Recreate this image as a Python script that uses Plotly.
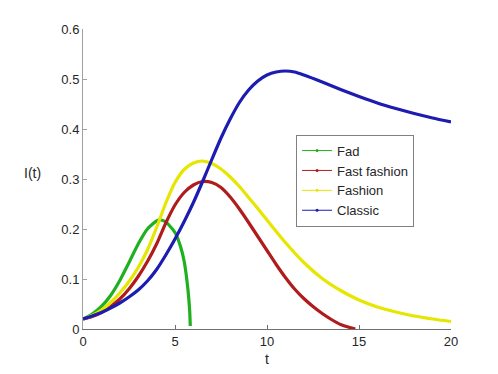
import plotly.graph_objects as go

# values
fad_t = [0, 0.5, 1, 1.5, 2, 2.5, 3, 3.5, 4, 4.25, 4.5, 5, 5.3, 5.5, 5.7, 5.8, 5.83]
fad_i = [0.020, 0.030, 0.045, 0.067, 0.097, 0.133, 0.170, 0.200, 0.216, 0.218, 0.214,
         0.193, 0.165, 0.135, 0.080, 0.035, 0.006]

fast_t = [0, 0.5, 1, 1.5, 2, 2.5, 3, 3.5, 4, 4.5, 5, 5.5, 6, 6.5, 7, 7.5, 8, 8.5, 9, 9.5,
          10, 10.5, 11, 11.5, 12, 12.5, 13, 13.5, 14, 14.5, 14.8]
fast_i = [0.020, 0.025, 0.033, 0.045, 0.060, 0.080, 0.105, 0.135, 0.170, 0.212, 0.248,
          0.273, 0.288, 0.295, 0.293, 0.283, 0.264, 0.240, 0.213, 0.185, 0.157, 0.129,
          0.103, 0.080, 0.061, 0.045, 0.031, 0.019, 0.009, 0.003, 0.0]

fashion_t = [0, 0.5, 1, 1.5, 2, 2.5, 3, 3.5, 4, 4.5, 5, 5.5, 6, 6.5, 7, 7.5, 8, 8.5, 9,
             9.5, 10, 11, 12, 13, 14, 15, 16, 17, 18, 19, 20]
fashion_i = [0.020, 0.027, 0.038, 0.053, 0.072, 0.095, 0.123, 0.158, 0.203, 0.252, 0.293,
             0.319, 0.332, 0.336, 0.331, 0.320, 0.304, 0.285, 0.263, 0.241, 0.218, 0.173,
             0.133, 0.101, 0.077, 0.058, 0.044, 0.034, 0.026, 0.020, 0.015]

classic_t = [0, 0.5, 1, 1.5, 2, 2.5, 3, 3.5, 4, 4.5, 5, 5.5, 6, 6.5, 7, 7.5, 8, 8.5, 9,
             9.5, 10, 10.5, 11, 11.5, 12, 13, 14, 15, 16, 17, 18, 19, 20]
classic_i = [0.020, 0.026, 0.033, 0.042, 0.052, 0.064, 0.078, 0.096, 0.119, 0.148, 0.180,
             0.215, 0.253, 0.295, 0.339, 0.382, 0.420, 0.453, 0.478, 0.496, 0.508, 0.514,
             0.516, 0.514, 0.508, 0.494, 0.479, 0.465, 0.452, 0.441, 0.431, 0.422, 0.414]

x_ticks = [0, 5, 10, 15, 20]
y_ticks = [0, 0.1, 0.2, 0.3, 0.4, 0.5, 0.6]

series = [
    ('Fad', fad_t, fad_i, '#1fb01f'),
    ('Fast fashion', fast_t, fast_i, '#b01c1c'),
    ('Fashion', fashion_t, fashion_i, '#e6e600'),
    ('Classic', classic_t, classic_i, '#1c1cb0'),
]

FONT = 'Liberation Sans, Arial'

fig = go.Figure()

# thick curves
for name, t, i, color in series:
    fig.add_trace(go.Scatter(
        x=t, y=i, mode='lines', name=name, showlegend=False,
        line=dict(color=color, width=3.2, shape='spline', smoothing=0.6)
    ))

# thin line + dot entries for the legend only
for name, t, i, color in series:
    fig.add_trace(go.Scatter(
        x=[None], y=[None], mode='lines+markers', name=name,
        line=dict(color=color, width=1), marker=dict(color=color, size=3)
    ))

def axis_style(line_color):
    return dict(
        showline=True, linecolor=line_color, linewidth=1,
        ticks='inside', ticklen=4, tickcolor=line_color,
        showgrid=False, zeroline=False, mirror=False,
        tickfont=dict(family=FONT, size=13, color='#262626'),
    )

# page body adds an 8px offset, so the figure is 8px smaller than the window
fig.update_layout(
    width=490, height=366,
    margin=dict(l=75, r=47, t=21, b=45),
    paper_bgcolor='white', plot_bgcolor='white',
    xaxis=dict(range=[0, 20], tickvals=x_ticks, **axis_style('#707070')),
    yaxis=dict(range=[0, 0.6], tickvals=y_ticks, tickformat='.1~f', **axis_style('#a0a0a0')),
    legend=dict(
        x=0.579, y=0.648, xanchor='left', yanchor='top',
        bordercolor='#808080', borderwidth=1, bgcolor='white',
        font=dict(family=FONT, size=13, color='#262626'),
        tracegroupgap=0, itemwidth=30,
    ),
    annotations=[
        dict(text='t', x=0.5, y=-0.1, xref='paper', yref='paper', showarrow=False,
             xanchor='center', yanchor='middle',
             font=dict(family=FONT, size=14, color='#262626')),
        dict(text='I(t)', x=-0.136, y=0.52, xref='paper', yref='paper', showarrow=False,
             xanchor='center', yanchor='middle',
             font=dict(family=FONT, size=14, color='#262626')),
    ],
)

fig.write_html("out.html")
